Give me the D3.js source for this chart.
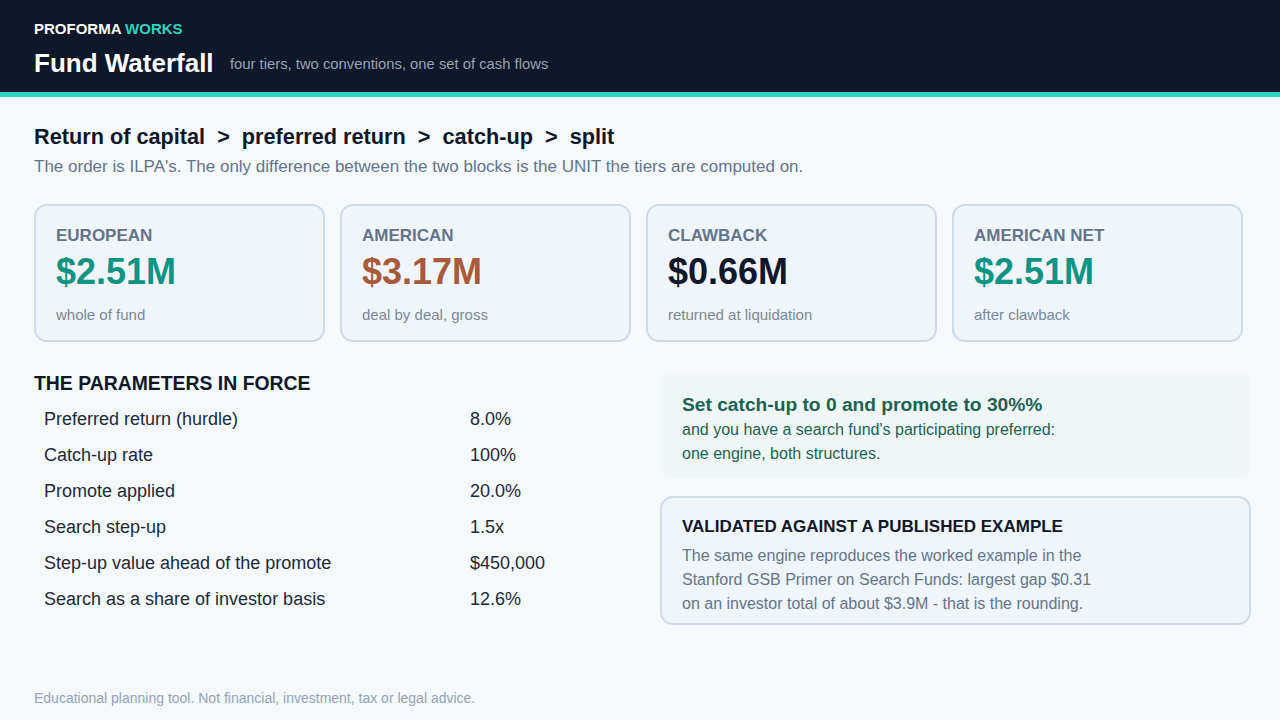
<!DOCTYPE html>
<html>
<head>
<meta charset="utf-8">
<script src="https://cdn.jsdelivr.net/npm/d3@7"></script>
<style>
  html, body { margin: 0; padding: 0; background: #f5f9fc; }
  svg { display: block; font-family: "Liberation Sans", Arial, sans-serif; }
</style>
</head>
<body>
<script>
// page size
var W = 1280;
var H = 720;

// headline figures, $M
var cardLabels   = ["EUROPEAN", "AMERICAN", "CLAWBACK", "AMERICAN NET"];
var cardValues   = [2.51, 3.17, 0.66, 2.51];
var cardCaptions = ["whole of fund", "deal by deal, gross", "returned at liquidation", "after clawback"];
var cardTones    = ["good", "bad", "plain", "good"];

// parameters table
var paramLabels = ["Preferred return (hurdle)", "Catch-up rate", "Promote applied",
                   "Search step-up", "Step-up value ahead of the promote", "Search as a share of investor basis"];
var paramValues = ["8.0%", "100%", "20.0%", "1.5x", "$450,000", "12.6%"];

// side notes
var tipTitle = "Set catch-up to 0 and promote to 30%%";
var tipLines = ["and you have a search fund's participating preferred:", "one engine, both structures."];
var checkTitle = "VALIDATED AGAINST A PUBLISHED EXAMPLE";
var checkLines = ["The same engine reproduces the worked example in the",
                  "Stanford GSB Primer on Search Funds: largest gap $0.31",
                  "on an investor total of about $3.9M - that is the rounding."];

var toneColor = { good: "#0f9484", bad: "#a85a3a", plain: "#0f172a" };
var fmtM = function(v) { return "$" + d3.format(".2f")(v) + "M"; };

var svg = d3.select("body")
            .append("svg")
            .attr("width", W)
            .attr("height", H);

svg.append("rect").attr("width", W).attr("height", H).attr("fill", "#f5f9fc");

// header band
svg.append("rect").attr("width", W).attr("height", 92).attr("fill", "#0f172a");
svg.append("rect").attr("y", 92).attr("width", W).attr("height", 5).attr("fill", "#2dd4bf");

var brand = svg.append("text")
               .attr("x", 34).attr("y", 34)
               .style("font-size", "15px").style("font-weight", "bold");
brand.append("tspan").attr("fill", "#ffffff").text("PROFORMA ");
brand.append("tspan").attr("fill", "#2dd4bf").text("WORKS");

svg.append("text")
   .attr("x", 34).attr("y", 72)
   .attr("fill", "#ffffff")
   .style("font-size", "26px").style("font-weight", "bold")
   .text("Fund Waterfall");

svg.append("text")
   .attr("x", 230).attr("y", 69)
   .attr("fill", "#94a3b8")
   .style("font-size", "14.8px")
   .text("four tiers, two conventions, one set of cash flows");

// section heading
svg.append("text")
   .attr("x", 34).attr("y", 144)
   .attr("fill", "#0f172a")
   .style("font-size", "21.7px").style("font-weight", "bold")
   .attr("xml:space", "preserve")
   .text("Return of capital  >  preferred return  >  catch-up  >  split");

svg.append("text")
   .attr("x", 34).attr("y", 172)
   .attr("fill", "#64748b")
   .style("font-size", "17px")
   .text("The order is ILPA's. The only difference between the two blocks is the UNIT the tiers are computed on.");

// KPI cards
var cardX = d3.scaleBand()
              .domain(d3.range(cardLabels.length))
              .range([35, 1242])
              .paddingInner(17 / 306)
              .paddingOuter(0);

var cards = svg.selectAll(".card")
               .data(cardLabels.map(function(d, i) {
                   return { label: d, value: cardValues[i], caption: cardCaptions[i], tone: cardTones[i], i: i };
               }))
               .enter()
               .append("g")
               .attr("class", "card")
               .attr("transform", function(d) { return "translate(" + cardX(d.i) + ",205)"; });

cards.append("rect")
     .attr("width", cardX.bandwidth())
     .attr("height", 136)
     .attr("rx", 12)
     .attr("fill", "#f0f5fc")
     .attr("stroke", "#cfdbe9")
     .attr("stroke-width", 2);

cards.append("text")
     .attr("x", 21).attr("y", 36)
     .attr("fill", "#64748b")
     .style("font-size", "17px").style("font-weight", "bold")
     .text(function(d) { return d.label; });

cards.append("text")
     .attr("x", 21).attr("y", 79)
     .attr("fill", function(d) { return toneColor[d.tone]; })
     .style("font-size", "36px").style("font-weight", "bold")
     .text(function(d) { return fmtM(d.value); });

cards.append("text")
     .attr("x", 21).attr("y", 115)
     .attr("fill", "#7b8799")
     .style("font-size", "15px")
     .text(function(d) { return d.caption; });

// parameters table
svg.append("text")
   .attr("x", 34).attr("y", 390)
   .attr("fill", "#0f172a")
   .style("font-size", "19.4px").style("font-weight", "bold")
   .text("THE PARAMETERS IN FORCE");

var rowY = d3.scalePoint()
             .domain(d3.range(paramLabels.length))
             .range([425, 605]);

var rows = svg.selectAll(".param")
              .data(paramLabels)
              .enter()
              .append("g")
              .attr("class", "param")
              .attr("transform", function(d, i) { return "translate(0," + rowY(i) + ")"; });

rows.append("text")
    .attr("x", 44)
    .attr("fill", "#1e293b")
    .style("font-size", "18px")
    .text(function(d) { return d; });

rows.append("text")
    .attr("x", 470)
    .attr("fill", "#1e293b")
    .style("font-size", "18px")
    .text(function(d, i) { return paramValues[i]; });

// tip box
svg.append("rect")
   .attr("x", 660).attr("y", 373)
   .attr("width", 591).attr("height", 105)
   .attr("rx", 12)
   .attr("fill", "#eef7f5");

svg.append("text")
   .attr("x", 682).attr("y", 411)
   .attr("fill", "#1b6355")
   .style("font-size", "19.2px").style("font-weight", "bold")
   .text(tipTitle);

svg.selectAll(".tipLine")
   .data(tipLines)
   .enter()
   .append("text")
   .attr("class", "tipLine")
   .attr("x", 682)
   .attr("y", function(d, i) { return 435 + i * 24; })
   .attr("fill", "#1b6355")
   .style("font-size", "16px")
   .text(function(d) { return d; });

// validation box
svg.append("rect")
   .attr("x", 661).attr("y", 497)
   .attr("width", 589).attr("height", 127)
   .attr("rx", 12)
   .attr("fill", "#f0f5fc")
   .attr("stroke", "#cfdbe9")
   .attr("stroke-width", 2);

svg.append("text")
   .attr("x", 682).attr("y", 532)
   .attr("fill", "#0f172a")
   .style("font-size", "17px").style("font-weight", "bold")
   .text(checkTitle);

svg.selectAll(".checkLine")
   .data(checkLines)
   .enter()
   .append("text")
   .attr("class", "checkLine")
   .attr("x", 682)
   .attr("y", function(d, i) { return 561 + i * 24; })
   .attr("fill", "#64748b")
   .style("font-size", "16px")
   .text(function(d) { return d; });

// footer
svg.append("text")
   .attr("x", 34).attr("y", 703)
   .attr("fill", "#94a3b8")
   .style("font-size", "14px")
   .text("Educational planning tool. Not financial, investment, tax or legal advice.");
</script>
</body>
</html>
